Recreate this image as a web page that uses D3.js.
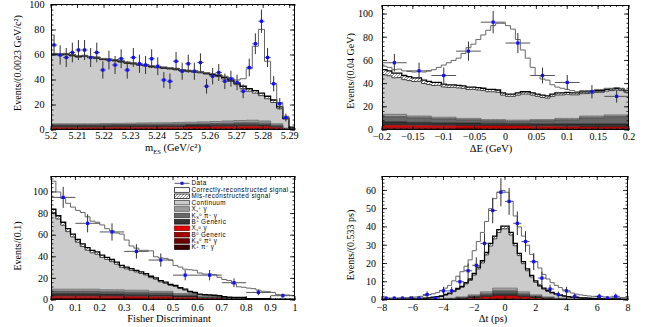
<!DOCTYPE html>
<html><head><meta charset="utf-8">
<script src="https://cdn.jsdelivr.net/npm/d3@7"></script>
<style>body{margin:0;background:#fff}svg{display:block}</style>
</head><body>
<svg id="c" width="654" height="327"></svg>
<script>
// ---------- component order (bottom -> top) ----------
const smallKeys = ["kpig","ks0pi0g","b0gen","xs0g","bpgen","kspipg","xspg"];
const stackKeys = smallKeys.concat(["cont","misreco","signal"]);

// ---------- Panel A : mES ----------
const mesData = [68,60,58,62,64,64,58,62,48,56,52,57,48,58,53,52,57,51,40,39,55,47,53,47,54,35,43,46,39,41,38,31,50,69,87,58,37,21,10];
const mesSignal = [0.3,0.3,0.3,0.3,0.3,0.3,0.3,0.3,0.3,0.3,0.3,0.3,0.3,0.3,0.3,0.3,0.3,0.3,0.3,0.3,0.4,0.4,0.4,0.4,0.4,0.4,0.6,0.8,1.0,1.5,2.5,6,16,35.5,51,28,13,3.5,1.5,0.5];
const mesMisreco = [0.8,0.8,0.8,0.8,0.8,0.8,0.8,0.8,0.8,0.8,0.8,0.8,0.8,0.8,0.8,0.8,0.8,0.8,0.8,0.8,0.8,0.8,0.8,0.8,0.8,0.8,0.8,0.8,1.2,1.2,1.2,2,2,2,2,2,2,1.5,0.8,0.2];
const mesContinuum = [55.2,54.7,55.2,54.2,53.2,53.7,52.7,52.2,51.0,50.5,49.9,48.9,47.8,47.3,46.1,45.6,44.5,44.0,43.4,42.9,42.2,41.2,40.5,40.0,39.2,38.2,36.9,35.9,33.6,31.6,28.7,25.4,23.2,21.7,20.3,17.8,17.0,12.0,7.2,0.3];
const mesBkg = [
  [.3,.3,.3,.3,.3,.3,.3,.3,.3,.3,.3,.3,.3,.4,.4,.4,.5,.4,.3,.1],
  [.2,.2,.2,.2,.2,.2,.2,.2,.2,.2,.2,.3,.3,.3,.3,.4,.4,.4,.3,.1],
  [.6,.6,.6,.6,.6,.6,.6,.6,.6,.6,.6,.6,.6,.6,.6,.6,.6,.6,.4,.1],
  [1.0,1.0,1.0,1.0,1.0,1.1,1.1,1.1,1.1,1.2,1.2,1.2,1.3,1.3,1.4,1.5,1.5,1.4,1.0,.3],
  [1.6,1.6,1.6,1.6,1.6,1.6,1.6,1.6,1.6,1.6,1.6,1.6,1.6,1.6,1.6,1.6,1.5,1.4,1.0,.3],
  [.5,.5,.5,.5,.6,.6,.6,.7,.7,.7,.8,.8,.9,1.0,1.1,1.2,1.3,1.2,.8,.2],
  [.8,.8,.8,.8,.9,.9,1.0,1.1,1.2,1.2,1.3,1.4,1.5,1.6,1.8,1.9,2.0,1.8,1.2,.4]
];

// ---------- Panel B : Delta E ----------
const deData = [58,51,47,68,93,75,47,41,33,29];
const deSignal = [3,3,3,3.5,4,4.5,5,5.5,7,9,11,13,16.5,19,21,23.5,28,34,37,41.5,46,51,55,57.5,60,59,56,46,36,29,22,16,14,13.5,8,5,4,2.5,2,1,1,1,0.5,1,1,1,0.5,0.5,0.5,0.5];
const deMisreco = [4.5,4.3,4.0,3.8,3.6,3.4,3.2,3.0,2.9,2.8,2.6,2.5,2.4,2.3,2.2,2.2,2.1,2.1,2.0,2.0,2,2,2,2,2,2,2,2,2,2,2,2,2,2,2,1.8,1.8,1.8,1.7,1.7,1.7,1.6,1.6,1.6,1.5,1.5,1.5,1.5,1.5,1.5];
const deContinuum = [34.0,33.2,31.5,31.7,29.9,30.6,29.8,30.0,28.1,27.2,27.4,27.5,26.1,25.7,25.8,26.3,25.9,24.9,25.0,24.5,25.0,24.0,24.0,23.5,21.0,20.5,20.5,21.5,22.5,22.5,21.0,20.0,19.0,18.5,20.0,20.2,20.2,20.7,20.3,20.3,19.3,19.4,19.9,20.4,20.5,20.5,21.0,21.5,21.0,19.5];
const deBkg = [
  [.5,.5,.5,.4,.4,.4,.4,.4,.4,.4],
  [.5,.5,.5,.5,.4,.4,.4,.4,.4,.4],
  [1.0,1.0,.9,.9,.8,.8,.8,.8,.8,.8],
  [2.0,1.8,1.8,1.7,1.8,1.8,1.5,1.2,1.0,1.0],
  [3.0,2.8,2.6,2.5,2.4,2.3,2.3,2.4,2.6,2.6],
  [4.5,3.9,3.4,2.8,2.2,1.9,2.6,3.6,5.3,6.3],
  [2.0,1.5,1.3,1.2,1.0,.9,1.0,1.2,1.5,1.5]
];

// ---------- Panel C : Fisher ----------
const fdData = [95,71,63,45,37,23,23,16,7,4];
const fdSignal = [26,22,22,23.5,25,27,29,28.5,27,27.5,28,26.5,26.5,27,29,25,21,20.5,20,21.5,23.5,19.5,21,22,22.5,18.5,19,18.5,20,20.5,19.5,19,19.2,19.1,17,16,15.4,12.6,9.8,9.5,9.7,9.2,7.8,6.8,6.4,6.2,4.2,4.1,3.8,3.5];
const fdMisreco = [3,3,2.8,2.7,2.6,2.5,2.5,2.4,2.3,2.2,2.1,2.0,2.0,1.9,1.8,1.7,1.6,1.5,1.5,1.4,1.3,1.3,1.2,1.1,1.0,1.0,0.9,0.8,0.8,0.7,0.6,0.6,0.5,0.5,0.4,0.4,0.3,0.3,0.3,0.2,0.2,0.2,0.2,0.2,0.2,0.2,0.2,0.2,0.2,0.2];
const fdContinuum = [71,65,59.2,53.3,48.4,43.5,39.5,36.1,33.7,32.3,29.9,28,26,23.6,20.7,19.8,18.4,17,15.5,14.1,12.7,11.2,8.8,7.4,5.5,6.5,4.6,3.2,1.2,0.3,1.4,0.9,0.8,0.4,0.1,0.6,0.3,0.1,0.1,0.1,0.1,0.1,0.1,0.1,0.1,0.1,0.1,0.1,0.1,0.1];
const fdBkg = [
  [.5,.5,.5,.5,.4,.3,.2,.1,.05,.02],
  [.5,.5,.5,.4,.4,.3,.2,.1,.05,.03],
  [1.0,1.0,1.0,.9,.8,.6,.3,.2,.1,.05],
  [1.5,1.5,1.4,1.4,1.3,1.0,.6,.4,.2,.1],
  [2.5,2.5,2.3,2.2,1.9,1.4,.8,.4,.2,.1],
  [2.0,2.0,1.9,1.8,1.6,1.2,.7,.4,.2,.1],
  [2.0,2.0,1.9,1.8,1.6,1.2,.7,.4,.2,.1]
];

// ---------- Panel D : Delta t ----------
const dtData = [1,1,1,1,1,3,1,5,5,10,16,19,31,49,59,54,42,32,21,12,6,3,5,2,0,0,2,1,2,0];
const dtSignal = [0.5,0.5,0.5,0.5,0.6,0.6,0.6,0.8,0.9,1.1,1.4,1.7,1.9,2.2,3.0,3.5,4.2,5.5,6.7,8,9,10.5,12.5,14,15.5,17,19,20.5,20.5,19.5,18.5,17,15,14.5,14,13,11.5,10.5,9.3,7.5,6.3,5.3,4.6,4,3.2,2.6,2.2,1.8,1.6,1.4,1.2,1.1,1.2,1,1,0.9,0.9,0.9,0.9,0.8];
const dtMisreco = [.1,.1,.1,.1,.1,.1,.1,.1,.1,.1,.1,.15,.2,.2,.25,.3,.35,.4,.5,.6,.7,.8,.9,1.0,1.2,1.3,1.4,1.5,1.5,1.5,1.5,1.4,1.3,1.2,1.1,1.0,.9,.8,.7,.6,.5,.4,.35,.3,.25,.2,.2,.15,.15,.1,.1,.1,.1,.1,.1,.1,.1,.1,.1,.1];
const dtContinuum = [.2,.2,.2,.2,.3,.3,.3,.3,.4,.4,.5,.65,.7,1.0,1.35,1.7,2.45,3.6,4.1,5.2,7.1,7.9,10.8,14.2,15.8,20.2,25.1,27,30.5,32.5,32.5,29.1,23.2,19.8,15.4,11.5,9.8,6.9,4.7,4.2,3.0,2.1,2.05,1.5,1.05,1.1,.8,.65,.65,.6,.5,.5,.4,.4,.4,.4,.3,.3,.2,.2];
const dtBkg = [
  [0,0,0,0,.02,.03,.05,.1,.15,.2,.2,.15,.1,.05,.03,.02,0,0,0,0],
  [0,0,0,0,.02,.03,.05,.1,.15,.2,.2,.15,.1,.05,.03,.02,0,0,0,0],
  [0,0,.05,.05,.06,.09,.15,.25,.4,.55,.55,.4,.25,.15,.09,.06,.05,.05,0,0],
  [.05,.05,.05,.1,.1,.2,.35,.55,.9,1.3,1.3,.9,.55,.35,.2,.1,.1,.05,.05,.05],
  [.05,.05,.1,.1,.15,.25,.4,.65,1.0,1.5,1.5,1.0,.65,.4,.25,.15,.1,.1,.05,.05],
  [.05,.05,.05,.05,.1,.15,.3,.5,.8,1.2,1.2,.8,.5,.3,.15,.1,.05,.05,.05,.05],
  [.05,.05,.05,.1,.15,.25,.4,.65,1.1,1.55,1.55,1.1,.65,.4,.25,.15,.1,.05,.05,.05]
];

// ---------- legend text (segments: [text, "", "sub", "sup"]) ----------
const legendLabels = [
  [["Data",""]],
  [["Correctly-reconstructed signal",""]],
  [["Mis-reconstructed signal",""]],
  [["Continuum",""]],
  [["X",""],["s","sub"],["+","sup"],[" \u03b3",""]],
  [["K",""],["S","sub"],["0","sup"],[" \u03c0",""],["+","sup"],[" \u03b3",""]],
  [["B",""],["+","sup"],[" Generic",""]],
  [["X",""],["s","sub"],["0","sup"],[" \u03b3",""]],
  [["B",""],["0","sup"],[" Generic",""]],
  [["K",""],["S","sub"],["0","sup"],[" \u03c0",""],["0","sup"],[" \u03b3",""]],
  [["K",""],["+","sup"],[" \u03c0",""],["\u2212","sup"],[" \u03b3",""]]
];
const legendKeys = ["data","signal","misreco","cont","xspg","kspipg","bpgen","xs0g","b0gen","ks0pi0g","kpig"];

// ---------- styles ----------
const FILL = {kpig:"#3c0000",ks0pi0g:"#6c0000",b0gen:"#a40000",xs0g:"#e00000",bpgen:"#343434",kspipg:"#686868",xspg:"#9c9c9c",cont:"#cbcbcb",misreco:"url(#hatch)",signal:"#ffffff"};
const STROKE = {kpig:"#1a0000",ks0pi0g:"#300000",b0gen:"#500000",xs0g:"#800000",bpgen:"#111",kspipg:"#333",xspg:"#555",cont:"#333",misreco:"#000",signal:"#666"};
const SW = {kpig:.6,ks0pi0g:.6,b0gen:.6,xs0g:.6,bpgen:.6,kspipg:.7,xspg:.7,cont:.9,misreco:1.3,signal:1};

const svg = d3.select("#c");
const defs = svg.append("defs");
const pat = defs.append("pattern").attr("id","hatch").attr("patternUnits","userSpaceOnUse").attr("width",3).attr("height",3);
pat.append("rect").attr("width",3).attr("height",3).attr("fill","#fff");
pat.append("path").attr("d","M-1,1 L1,-1 M0,3 L3,0 M2,4 L4,2").attr("stroke","#555").attr("stroke-width",0.7);

function ticksFor(d0,d1,step){
  const a=Math.ceil(d0/step-1e-6), b=Math.floor(d1/step+1e-6);
  return d3.range(a,b+1).map(k=>+(k*step).toFixed(6));
}
const fmtNum = v => { const s = String(+v.toFixed(4)); return s.replace("-","\u2212"); };

const panels = [
  {id:"a",frame:{x0:51,x1:295,y0:4,y1:130},xDomain:[5.2,5.292],yMax:100.8,xMajor:.01,xMinor:.002,yMajor:20,yMinor:4,
   signal:mesSignal,misreco:mesMisreco,cont:mesContinuum,bkg:mesBkg,data:mesData,dataW:0.0023,
   fs:10.2,xLabY:139,xTitle:{x:173,y:150.5},yTitle:{x:20.5,y:63},yLabX:44.5,
   yTitleText:"Events/(0.0023 GeV/c\u00b2)",xTitleParts:[["m",""],["ES","sub"],[" (GeV/c\u00b2)",""]]},
  {id:"b",frame:{x0:382,x1:629,y0:5,y1:130},xDomain:[-0.2,0.2],yMax:107.8,xMajor:.05,xMinor:.01,yMajor:20,yMinor:4,
   signal:deSignal,misreco:deMisreco,cont:deContinuum,bkg:deBkg,data:deData,dataW:0.04,
   fs:10,xLabY:140,xTitle:{x:491,y:151.5},yTitle:{x:353.5,y:71},yLabX:373,
   yTitleText:"Events/(0.04 GeV)",xTitleParts:[["\u0394E (GeV)",""]]},
  {id:"c",frame:{x0:51,x1:295,y0:176,y1:300},xDomain:[0,1],yMax:114.8,xMajor:.1,xMinor:.02,yMajor:20,yMinor:4,
   signal:fdSignal,misreco:fdMisreco,cont:fdContinuum,bkg:fdBkg,data:fdData,dataW:0.1,
   fs:10,xLabY:310.5,xTitle:{x:169,y:321.5},yTitle:{x:20.5,y:246},yLabX:48,
   yTitleText:"Events/(0.1)",xTitleParts:[["Fisher Discriminant",""]],legend:true},
  {id:"d",frame:{x0:382,x1:628,y0:176,y1:300},xDomain:[-8,8],yMax:67.9,xMajor:2,xMinor:.5,yMajor:10,yMinor:2,
   signal:dtSignal,misreco:dtMisreco,cont:dtContinuum,bkg:dtBkg,data:dtData,dataW:16/30,
   fs:10,xLabY:310.5,xTitle:{x:493,y:322},yTitle:{x:353.5,y:245},yLabX:376,
   yTitleText:"Events/(0.533 ps)",xTitleParts:[["\u0394t (ps)",""]]}
];

function addParts(sel, parts, fs, subK, supK){
  let cur=0; // current baseline offset
  parts.forEach(([t,mode])=>{
    let target=0, size=null;
    if(mode==="sub"){ target=fs*subK; size=fs*0.62; }
    else if(mode==="sup"){ target=-fs*supK; size=fs*0.62; }
    const ts=sel.append("tspan").attr("dy",target-cur).text(t);
    if(size) ts.attr("font-size",size);
    cur=target;
  });
}

panels.forEach(p=>{
  const F=p.frame;
  const g=svg.append("g");
  const x=d3.scaleLinear().domain(p.xDomain).range([F.x0,F.x1]);
  const y=d3.scaleLinear().domain([0,p.yMax]).range([F.y1,F.y0]);
  defs.append("clipPath").attr("id","clip"+p.id).append("rect")
    .attr("x",F.x0).attr("y",F.y0).attr("width",F.x1-F.x0).attr("height",F.y1-F.y0);
  const hg=g.append("g").attr("clip-path","url(#clip"+p.id+")");
  const n=p.signal.length, m=p.bkg[0].length;
  const w=(p.xDomain[1]-p.xDomain[0])/n;
  const rows=d3.range(n).map(i=>{
    const r={};
    const j=Math.floor(i*m/n+1e-9);
    smallKeys.forEach((k,ki)=>r[k]=p.bkg[ki][j]);
    r.cont=p.cont[i]; r.misreco=p.misreco[i]; r.signal=p.signal[i];
    return r;
  });
  const series=d3.stack().keys(stackKeys)(rows);
  const ptsAll=series.map(s=>{
    const pts=[];
    s.forEach((d,i)=>{const xa=p.xDomain[0]+i*w; pts.push({x:xa,y0:d[0],y1:d[1]},{x:xa+w,y0:d[0],y1:d[1]});});
    return {key:s.key,pts};
  });
  const area=d3.area().x(d=>x(d.x)).y0(d=>y(d.y0)).y1(d=>y(d.y1));
  const line=d3.line().x(d=>x(d.x)).y(d=>y(d.y1));
  ptsAll.forEach(s=>hg.append("path").attr("d",area(s.pts)).attr("fill",FILL[s.key]).attr("stroke","none"));
  ptsAll.forEach(s=>hg.append("path").attr("d",line(s.pts)).attr("fill","none")
    .attr("stroke",STROKE[s.key]).attr("stroke-width",SW[s.key]));

  // data points
  const dg=g.append("g");
  p.data.forEach((v,i)=>{
    if(v<=0) return;
    const c=p.xDomain[0]+(i+0.5)*p.dataW;
    const e=Math.sqrt(v);
    dg.append("line").attr("x1",x(c-p.dataW/2)).attr("x2",x(c+p.dataW/2)).attr("y1",y(v)).attr("y2",y(v))
      .attr("stroke","#555").attr("stroke-width",1);
    dg.append("line").attr("x1",x(c)).attr("x2",x(c)).attr("y1",y(Math.max(0,v-e))).attr("y2",y(v+e))
      .attr("stroke","#333").attr("stroke-width",1);
    dg.append("rect").attr("x",x(c)-1.6).attr("y",y(v)-1.6).attr("width",3.2).attr("height",3.2).attr("fill","#1010ff");
  });

  // frame
  g.append("rect").attr("x",F.x0+0.5).attr("y",F.y0+0.5).attr("width",F.x1-F.x0-1).attr("height",F.y1-F.y0-1)
    .attr("fill","none").attr("stroke","#000").attr("stroke-width",1);

  // ticks
  const tg=g.append("g").attr("stroke","#000").attr("stroke-width",0.8);
  const majX=ticksFor(p.xDomain[0],p.xDomain[1],p.xMajor), minX=ticksFor(p.xDomain[0],p.xDomain[1],p.xMinor);
  const majY=ticksFor(0,p.yMax,p.yMajor), minY=ticksFor(0,p.yMax,p.yMinor);
  minX.forEach(v=>{const L=2;const X=x(v);
    tg.append("line").attr("x1",X).attr("x2",X).attr("y1",F.y1).attr("y2",F.y1-L);
    tg.append("line").attr("x1",X).attr("x2",X).attr("y1",F.y0).attr("y2",F.y0+L);});
  majX.forEach(v=>{const L=4;const X=x(v);
    tg.append("line").attr("x1",X).attr("x2",X).attr("y1",F.y1).attr("y2",F.y1-L);
    tg.append("line").attr("x1",X).attr("x2",X).attr("y1",F.y0).attr("y2",F.y0+L);});
  minY.forEach(v=>{const L=2.5;const Y=y(v);
    tg.append("line").attr("x1",F.x0).attr("x2",F.x0+L).attr("y1",Y).attr("y2",Y);
    tg.append("line").attr("x1",F.x1).attr("x2",F.x1-L).attr("y1",Y).attr("y2",Y);});
  majY.forEach(v=>{const L=5;const Y=y(v);
    tg.append("line").attr("x1",F.x0).attr("x2",F.x0+L).attr("y1",Y).attr("y2",Y);
    tg.append("line").attr("x1",F.x1).attr("x2",F.x1-L).attr("y1",Y).attr("y2",Y);});

  // tick labels
  const lg=g.append("g").attr("font-family","'Liberation Serif','Times New Roman',serif").attr("font-size",p.fs).attr("fill","#000");
  majX.forEach(v=>lg.append("text").attr("x",x(v)).attr("y",p.xLabY).attr("text-anchor","middle").text(fmtNum(v)));
  majY.forEach(v=>lg.append("text").attr("x",p.yLabX).attr("y",y(v)+p.fs*0.33).attr("text-anchor","end").text(fmtNum(v)));
  // titles
  const xt=lg.append("text").attr("x",p.xTitle.x).attr("y",p.xTitle.y).attr("text-anchor","middle").attr("font-size",10.5);
  addParts(xt,p.xTitleParts,10.5,0.3,0.4);
  lg.append("text").attr("transform",`translate(${p.yTitle.x},${p.yTitle.y}) rotate(-90)`).attr("text-anchor","middle")
    .attr("font-size",10).text(p.yTitleText);

  if(p.legend){
    const leg=g.append("g");
    const rowY=[183.3,190,196.3,202.6,209,215.5,221.8,228.3,234.7,241,247.3];
    legendKeys.forEach((k,i)=>{
      const ry=rowY[i];
      if(k==="data"){
        leg.append("line").attr("x1",174.5).attr("x2",189.5).attr("y1",ry).attr("y2",ry).attr("stroke","#555").attr("stroke-width",1);
        leg.append("rect").attr("x",180.5).attr("y",ry-1.5).attr("width",3).attr("height",3).attr("fill","#1010ff");
      } else {
        leg.append("rect").attr("x",174.5).attr("y",ry-2.3).attr("width",15).attr("height",4.6)
          .attr("fill",FILL[k]).attr("stroke",k==="signal"||k==="misreco"?"#000":STROKE[k]).attr("stroke-width",0.7);
      }
      const t=leg.append("text").attr("x",191.5).attr("y",ry+2.1).attr("font-family","'Liberation Sans',Arial,sans-serif")
        .attr("font-size",6.3).attr("letter-spacing",0.45).attr("fill","#000");
      addParts(t,legendLabels[i],6.3,0.15,0.3);
    });
  }
});
</script>
</body></html>
